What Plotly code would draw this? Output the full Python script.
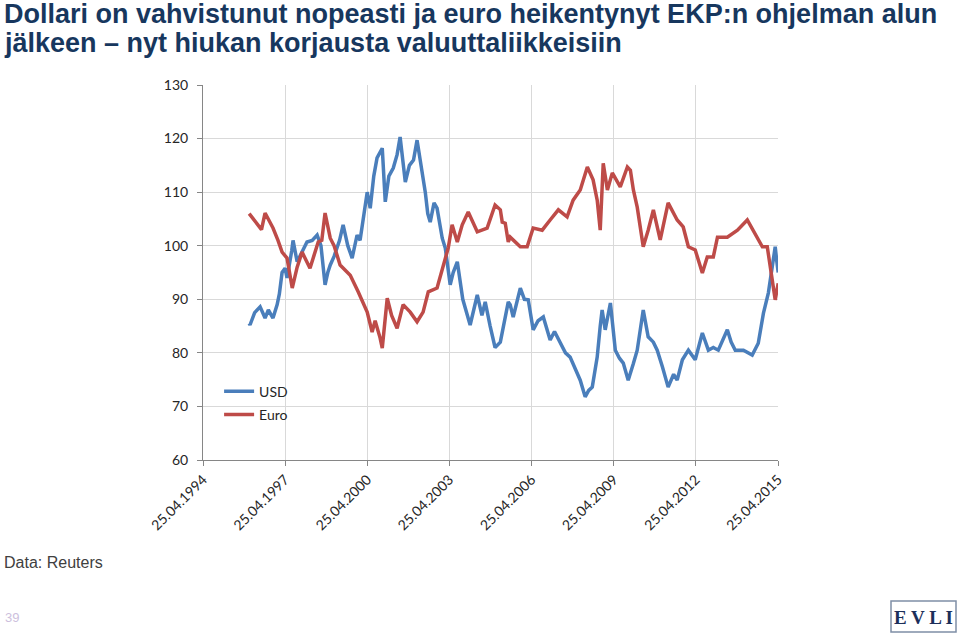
import plotly.graph_objects as go
import pandas as pd

# Data (decimal years -> index value)
usd_years = [1996.00, 1996.03, 1996.20, 1996.40, 1996.58, 1996.70, 1996.87, 1997.02, 1997.10, 1997.20,
             1997.31, 1997.38, 1997.55, 1997.60, 1997.75, 1997.93, 1998.11, 1998.30, 1998.48, 1998.62,
             1998.77, 1998.87, 1998.96, 1999.10, 1999.30, 1999.43, 1999.60, 1999.76, 1999.94, 2000.05,
             2000.20, 2000.31, 2000.42, 2000.55, 2000.67, 2000.86, 2000.97, 2001.10, 2001.26, 2001.40,
             2001.51, 2001.62, 2001.70, 2001.85, 2002.00, 2002.13, 2002.25, 2002.43, 2002.52, 2002.61,
             2002.75, 2002.86, 2003.05, 2003.16, 2003.34, 2003.45, 2003.60, 2003.80, 2004.07, 2004.20,
             2004.33, 2004.50, 2004.62, 2004.80, 2004.98, 2005.17, 2005.28, 2005.46, 2005.53, 2005.64,
             2005.80, 2005.90, 2006.05, 2006.19, 2006.37, 2006.55, 2006.74, 2006.99, 2007.15, 2007.36,
             2007.55, 2007.72, 2007.90, 2008.09, 2008.27, 2008.40, 2008.53, 2008.71, 2008.82, 2008.89,
             2009.00, 2009.19, 2009.37, 2009.52, 2009.66, 2009.84, 2010.03, 2010.17, 2010.39, 2010.57,
             2010.76, 2010.90, 2011.09, 2011.30, 2011.50, 2011.63, 2011.82, 2012.04, 2012.29, 2012.55,
             2012.77, 2012.95, 2013.13, 2013.30, 2013.46, 2013.60, 2013.75, 2014.05, 2014.37, 2014.59,
             2014.78, 2014.96, 2015.10, 2015.21, 2015.27, 2015.32]
usd_values = [85.5, 85.2, 87.5, 88.6, 86.5, 88.0, 86.5, 89.0, 91.0, 95.0,
              95.8, 94.0, 99.0, 101.0, 97.0, 99.0, 100.7, 101.0, 102.0, 100.0,
              92.7, 95.0, 96.4, 98.0, 101.0, 103.9, 100.0, 97.7, 102.0, 101.0,
              106.0, 110.0, 107.0, 113.0, 116.4, 118.2, 108.2, 113.0, 114.5, 117.0,
              120.3, 115.0, 111.9, 115.0, 116.0, 119.7, 116.0, 110.0, 106.0, 104.4,
              108.0, 107.0, 101.4, 99.6, 92.7, 95.0, 97.0, 90.0, 85.2, 88.0,
              90.8, 87.0, 89.5, 85.0, 81.0, 82.0, 85.0, 89.5, 89.0, 86.7,
              90.0, 92.1, 90.0, 89.9, 84.3, 86.0, 86.7, 82.4, 84.0, 81.8,
              80.0, 79.2, 77.0, 74.9, 71.8, 73.0, 73.6, 79.2, 85.0, 88.0,
              84.3, 89.3, 80.5, 79.0, 78.1, 74.9, 78.0, 80.5, 88.0, 83.0,
              82.0, 80.5, 77.4, 73.6, 76.0, 74.9, 78.7, 80.5, 78.7, 83.7,
              80.5, 81.0, 80.5, 82.5, 84.3, 82.0, 80.5, 80.5, 79.6, 81.8,
              87.4, 91.2, 95.5, 99.8, 97.0, 95.0]

euro_years = [1996.00, 1996.29, 1996.45, 1996.58, 1996.70, 1996.87, 1997.05, 1997.20, 1997.38, 1997.57,
              1997.75, 1997.93, 1998.22, 1998.52, 1998.65, 1998.77, 1998.96, 1999.10, 1999.32, 1999.69,
              1999.98, 2000.20, 2000.31, 2000.49, 2000.60, 2000.78, 2000.86, 2001.04, 2001.20, 2001.40,
              2001.62, 2001.88, 2002.13, 2002.35, 2002.54, 2002.86, 2003.08, 2003.27, 2003.41, 2003.60,
              2003.78, 2004.00, 2004.33, 2004.69, 2004.98, 2005.17, 2005.24, 2005.35, 2005.46, 2005.53,
              2005.90, 2006.15, 2006.37, 2006.70, 2006.99, 2007.29, 2007.61, 2007.83, 2008.09, 2008.35,
              2008.56, 2008.71, 2008.82, 2008.93, 2009.08, 2009.26, 2009.55, 2009.81, 2009.92, 2010.03,
              2010.17, 2010.28, 2010.39, 2010.57, 2010.76, 2011.01, 2011.30, 2011.63, 2011.85, 2012.04,
              2012.29, 2012.55, 2012.73, 2012.95, 2013.10, 2013.46, 2013.83, 2014.19, 2014.41, 2014.74,
              2014.92, 2015.10, 2015.21, 2015.32]
euro_values = [106.0, 103.9, 103.0, 106.1, 105.0, 103.3, 101.0, 98.8, 97.7, 92.1,
               96.0, 98.8, 95.8, 100.7, 101.0, 106.1, 101.4, 100.0, 96.4, 94.5,
               91.4, 89.0, 87.6, 83.9, 86.0, 82.8, 80.9, 90.2, 87.0, 84.6,
               89.0, 87.6, 85.8, 87.6, 91.4, 92.1, 96.4, 99.6, 103.9, 100.7,
               103.9, 106.3, 102.6, 103.3, 107.6, 106.7, 104.4, 104.2, 100.7, 101.6,
               99.8, 99.8, 103.3, 102.9, 104.8, 106.7, 105.4, 108.5, 110.4, 114.7,
               112.3, 108.5, 102.9, 115.4, 110.4, 113.6, 111.0, 114.7, 114.1, 110.4,
               107.2, 102.9, 99.8, 102.9, 106.7, 101.1, 108.0, 104.8, 103.5, 99.8,
               99.2, 94.9, 97.9, 97.9, 101.6, 101.6, 102.9, 104.8, 102.9, 99.8,
               99.8, 93.6, 89.9, 93.0]

tick_dates = ['1994-04-25', '1997-04-25', '2000-04-25', '2003-04-25',
              '2006-04-25', '2009-04-25', '2012-04-25', '2015-04-25']
tick_labels = ['25.04.1994', '25.04.1997', '25.04.2000', '25.04.2003',
               '25.04.2006', '25.04.2009', '25.04.2012', '25.04.2015']


def to_dates(years):
    out = []
    for y in years:
        yr = int(y)
        out.append(pd.Timestamp(yr, 1, 1) + pd.Timedelta(days=(y - yr) * 365.25))
    return out


traces = []
traces.append(go.Scatter(x=to_dates(usd_years), y=usd_values, mode='lines', name='USD',
                         legendgroup='usd', line=dict(color='#4A7EBB', width=3.5)))
traces.append(go.Scatter(x=to_dates(euro_years), y=euro_values, mode='lines', name='Euro',
                         legendgroup='euro', line=dict(color='#BE4B48', width=3.5)))

axis_font = dict(family='Lato, Open Sans, sans-serif', size=14, color='#262626')
title_font = dict(family='Liberation Sans, Arial', size=27, color='#17375E')

layout = go.Layout(
    width=960, height=633,
    margin=dict(l=203, r=182, t=85, b=173),
    paper_bgcolor='white', plot_bgcolor='white',
    showlegend=True,
    legend=dict(x=0.028, y=0.225, xanchor='left', yanchor='top', font=axis_font,
                bgcolor='rgba(0,0,0,0)', tracegroupgap=2, itemwidth=30),
    xaxis=dict(type='date', range=['1994-04-25', '2015-04-25'],
               tickvals=tick_dates, ticktext=tick_labels, tickangle=-45,
               tickfont=axis_font, showgrid=True, gridcolor='#D9D9D9', gridwidth=1,
               showline=True, linecolor='#868686', linewidth=1,
               ticks='outside', ticklen=5, tickcolor='#868686', zeroline=False),
    yaxis=dict(range=[60, 130], dtick=10, tickfont=axis_font,
               showgrid=True, gridcolor='#D9D9D9', gridwidth=1,
               showline=True, linecolor='#868686', linewidth=1,
               ticks='outside', ticklen=5, tickcolor='#868686', zeroline=False,
               ticklabelstandoff=6),
    hovermode='closest',
    annotations=[
        dict(text='<b>Dollari on vahvistunut nopeasti ja euro heikentynyt EKP:n ohjelman alun</b>',
             x=2, y=14, showarrow=False, font=title_font),
        dict(text='<b>jälkeen – nyt hiukan korjausta valuuttaliikkeisiin</b>',
             x=2, y=43, showarrow=False, font=title_font),
        dict(text='Data: Reuters', x=2, y=562, showarrow=False,
             font=dict(family='Liberation Sans, Arial', size=16, color='#404040')),
        dict(text='39', x=3, y=617, showarrow=False,
             font=dict(family='Liberation Sans, Arial', size=13, color='#CDBFDD')),
        dict(text='<b>E V L I</b>', x=923, y=617, showarrow=False,
             font=dict(family='Liberation Serif, serif', size=19, color='#1C2F5A')),
    ],
)

# place annotations in pixel terms
for a in layout.annotations:
    px, py = a.x, a.y
    a.xref = 'paper'
    a.yref = 'paper'
    a.x = (px - 203) / 575.0
    a.y = (460 - py) / 375.0
    a.yanchor = 'middle'
    a.xanchor = 'center' if a.text.startswith('<b>E V') else 'left'

fig = go.Figure(data=traces, layout=layout)
fig.add_shape(type='rect', xref='paper', yref='paper',
              x0=(891 - 203) / 575.0, x1=(956 - 203) / 575.0,
              y0=(460 - 632) / 375.0, y1=(460 - 601) / 375.0,
              line=dict(color='#7F8FA6', width=1.5), fillcolor='white', layer='below')

fig.write_html("out.html", config={'displayModeBar': False},
               post_script="document.body.style.margin='0px';")
